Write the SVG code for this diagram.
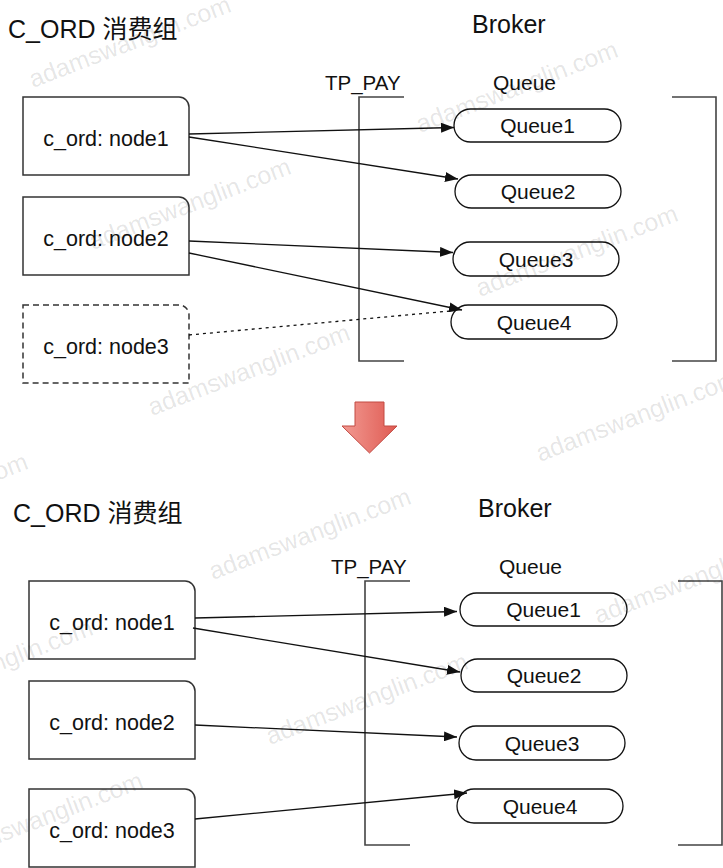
<svg xmlns="http://www.w3.org/2000/svg" width="723" height="868" viewBox="0 0 723 868">
<style>
text{font-family:"Liberation Sans",Arial,"Noto Sans CJK SC",sans-serif;fill:#111}
.title{font-size:25px}
.hdr{font-size:20.5px}
.lbl{font-size:21.5px;text-anchor:middle}
.ql{font-size:21px;text-anchor:middle}
.node{fill:#fff;stroke:#333;stroke-width:1.5}
.dash{stroke-dasharray:6,4}
.pill{fill:#fff;stroke:#111;stroke-width:1.3}
.brk{fill:none;stroke:#444;stroke-width:1.6}
.con{fill:none;stroke:#111;stroke-width:1.3}
.dot{stroke-dasharray:3,4}
.wm{font-size:25px;fill:#000;fill-opacity:0.11}
</style>
<defs>
<marker id="ah" markerUnits="userSpaceOnUse" markerWidth="14" markerHeight="10" refX="13" refY="5" orient="auto">
<path d="M0,0 L13,5 L0,10 z" fill="#111"/>
</marker>
<linearGradient id="rg" x1="0" y1="0" x2="1" y2="0">
<stop offset="0" stop-color="#f29a92"/>
<stop offset="1" stop-color="#df5a52"/>
</linearGradient>
</defs>
<rect width="723" height="868" fill="#fff"/>

<g id="top">
<text class="title" x="8" y="38">C_ORD 消费组</text>
<text class="title" x="472" y="33">Broker</text>
<text class="hdr" x="325" y="90">TP_PAY</text>
<text class="hdr" x="493" y="90" style="font-size:21px">Queue</text>
<g id="top-brackets">
<path class="brk" d="M404,97 H359 V361 H404"/>
<path class="brk" d="M672,97 H716 V361 H672"/>
</g>
<g id="top-node1"><path class="node" d="M23,97 H179 A10,10 0 0 1 189,107 V175 H23 Z"/><text class="lbl" x="106" y="145.5">c_ord: node1</text></g>
<g id="top-node2"><path class="node" d="M23,197 H179 A10,10 0 0 1 189,207 V275 H23 Z"/><text class="lbl" x="106" y="245.5">c_ord: node2</text></g>
<g id="top-node3"><path class="node dash" d="M23,305 H179 A10,10 0 0 1 189,315 V383 H23 Z"/><text class="lbl" x="106" y="353.5">c_ord: node3</text></g>
<g id="top-queue1"><rect class="pill" x="454" y="109" width="167" height="33" rx="16.5"/><text class="ql" x="537.5" y="133">Queue1</text></g>
<g id="top-queue2"><rect class="pill" x="455" y="175" width="166" height="33" rx="16.5"/><text class="ql" x="538" y="199">Queue2</text></g>
<g id="top-queue3"><rect class="pill" x="453" y="242" width="166" height="34" rx="17"/><text class="ql" x="536" y="266.5">Queue3</text></g>
<g id="top-queue4"><rect class="pill" x="451" y="305" width="166" height="34" rx="17"/><text class="ql" x="534" y="329.5">Queue4</text></g>
<g id="top-connectors">
<line class="con" x1="189" y1="134" x2="454" y2="127.5" marker-end="url(#ah)"/>
<line class="con" x1="189" y1="137" x2="458" y2="179" marker-end="url(#ah)"/>
<line class="con" x1="189" y1="241" x2="453" y2="252.5" marker-end="url(#ah)"/>
<line class="con" x1="189" y1="253" x2="462" y2="310" marker-end="url(#ah)"/>
<line class="con dot" x1="189" y1="335" x2="450" y2="311"/>
</g>
</g>

<g id="transition-arrow">
<polygon points="355,402 384,402 384,426 397,426 369.5,453 342,426 355,426" fill="url(#rg)" stroke="#c24a43" stroke-width="1"/>
</g>

<g id="bottom" transform="translate(6,484)">
<text class="title" x="7" y="38">C_ORD 消费组</text>
<text class="title" x="472" y="33">Broker</text>
<text class="hdr" x="325" y="90">TP_PAY</text>
<text class="hdr" x="493" y="90" style="font-size:21px">Queue</text>
<g id="bottom-brackets">
<path class="brk" d="M404,97 H359 V361 H404"/>
<path class="brk" d="M672,97 H716 V361 H672"/>
</g>
<g id="bottom-node1"><path class="node" d="M23,97 H179 A10,10 0 0 1 189,107 V175 H23 Z"/><text class="lbl" x="106" y="145.5">c_ord: node1</text></g>
<g id="bottom-node2"><path class="node" d="M23,197 H179 A10,10 0 0 1 189,207 V275 H23 Z"/><text class="lbl" x="106" y="245.5">c_ord: node2</text></g>
<g id="bottom-node3"><path class="node" d="M23,305 H179 A10,10 0 0 1 189,315 V383 H23 Z"/><text class="lbl" x="106" y="353.5">c_ord: node3</text></g>
<g id="bottom-queue1"><rect class="pill" x="454" y="109" width="167" height="33" rx="16.5"/><text class="ql" x="537.5" y="133">Queue1</text></g>
<g id="bottom-queue2"><rect class="pill" x="455" y="175" width="166" height="33" rx="16.5"/><text class="ql" x="538" y="199">Queue2</text></g>
<g id="bottom-queue3"><rect class="pill" x="453" y="242" width="166" height="34" rx="17"/><text class="ql" x="536" y="266.5">Queue3</text></g>
<g id="bottom-queue4"><rect class="pill" x="451" y="305" width="166" height="34" rx="17"/><text class="ql" x="534" y="329.5">Queue4</text></g>
<g id="bottom-connectors">
<line class="con" x1="189" y1="134" x2="451" y2="127.5" marker-end="url(#ah)"/>
<line class="con" x1="187" y1="144" x2="454" y2="188" marker-end="url(#ah)"/>
<line class="con" x1="189" y1="241" x2="451" y2="253" marker-end="url(#ah)"/>
<line class="con" x1="189" y1="335" x2="461" y2="309" marker-end="url(#ah)"/>
</g>
</g>

<g id="watermarks">
<text class="wm" x="33" y="88" transform="rotate(-21 33 88)">adamswanglin.com</text>
<text class="wm" x="93" y="250" transform="rotate(-21 93 250)">adamswanglin.com</text>
<text class="wm" x="420" y="133" transform="rotate(-21 420 133)">adamswanglin.com</text>
<text class="wm" x="480" y="297" transform="rotate(-21 480 297)">adamswanglin.com</text>
<text class="wm" x="152" y="416" transform="rotate(-21 152 416)">adamswanglin.com</text>
<text class="wm" x="540" y="462" transform="rotate(-21 540 462)">adamswanglin.com</text>
<text class="wm" x="-170" y="545" transform="rotate(-21 -170 545)">adamswanglin.com</text>
<text class="wm" x="213" y="580" transform="rotate(-21 213 580)">adamswanglin.com</text>
<text class="wm" x="-105" y="711" transform="rotate(-21 -105 711)">adamswanglin.com</text>
<text class="wm" x="270" y="745" transform="rotate(-21 270 745)">adamswanglin.com</text>
<text class="wm" x="598" y="624" transform="rotate(-21 598 624)">adamswanglin.com</text>
<text class="wm" x="-55" y="864" transform="rotate(-21 -55 864)">adamswanglin.com</text>
</g>
</svg>
